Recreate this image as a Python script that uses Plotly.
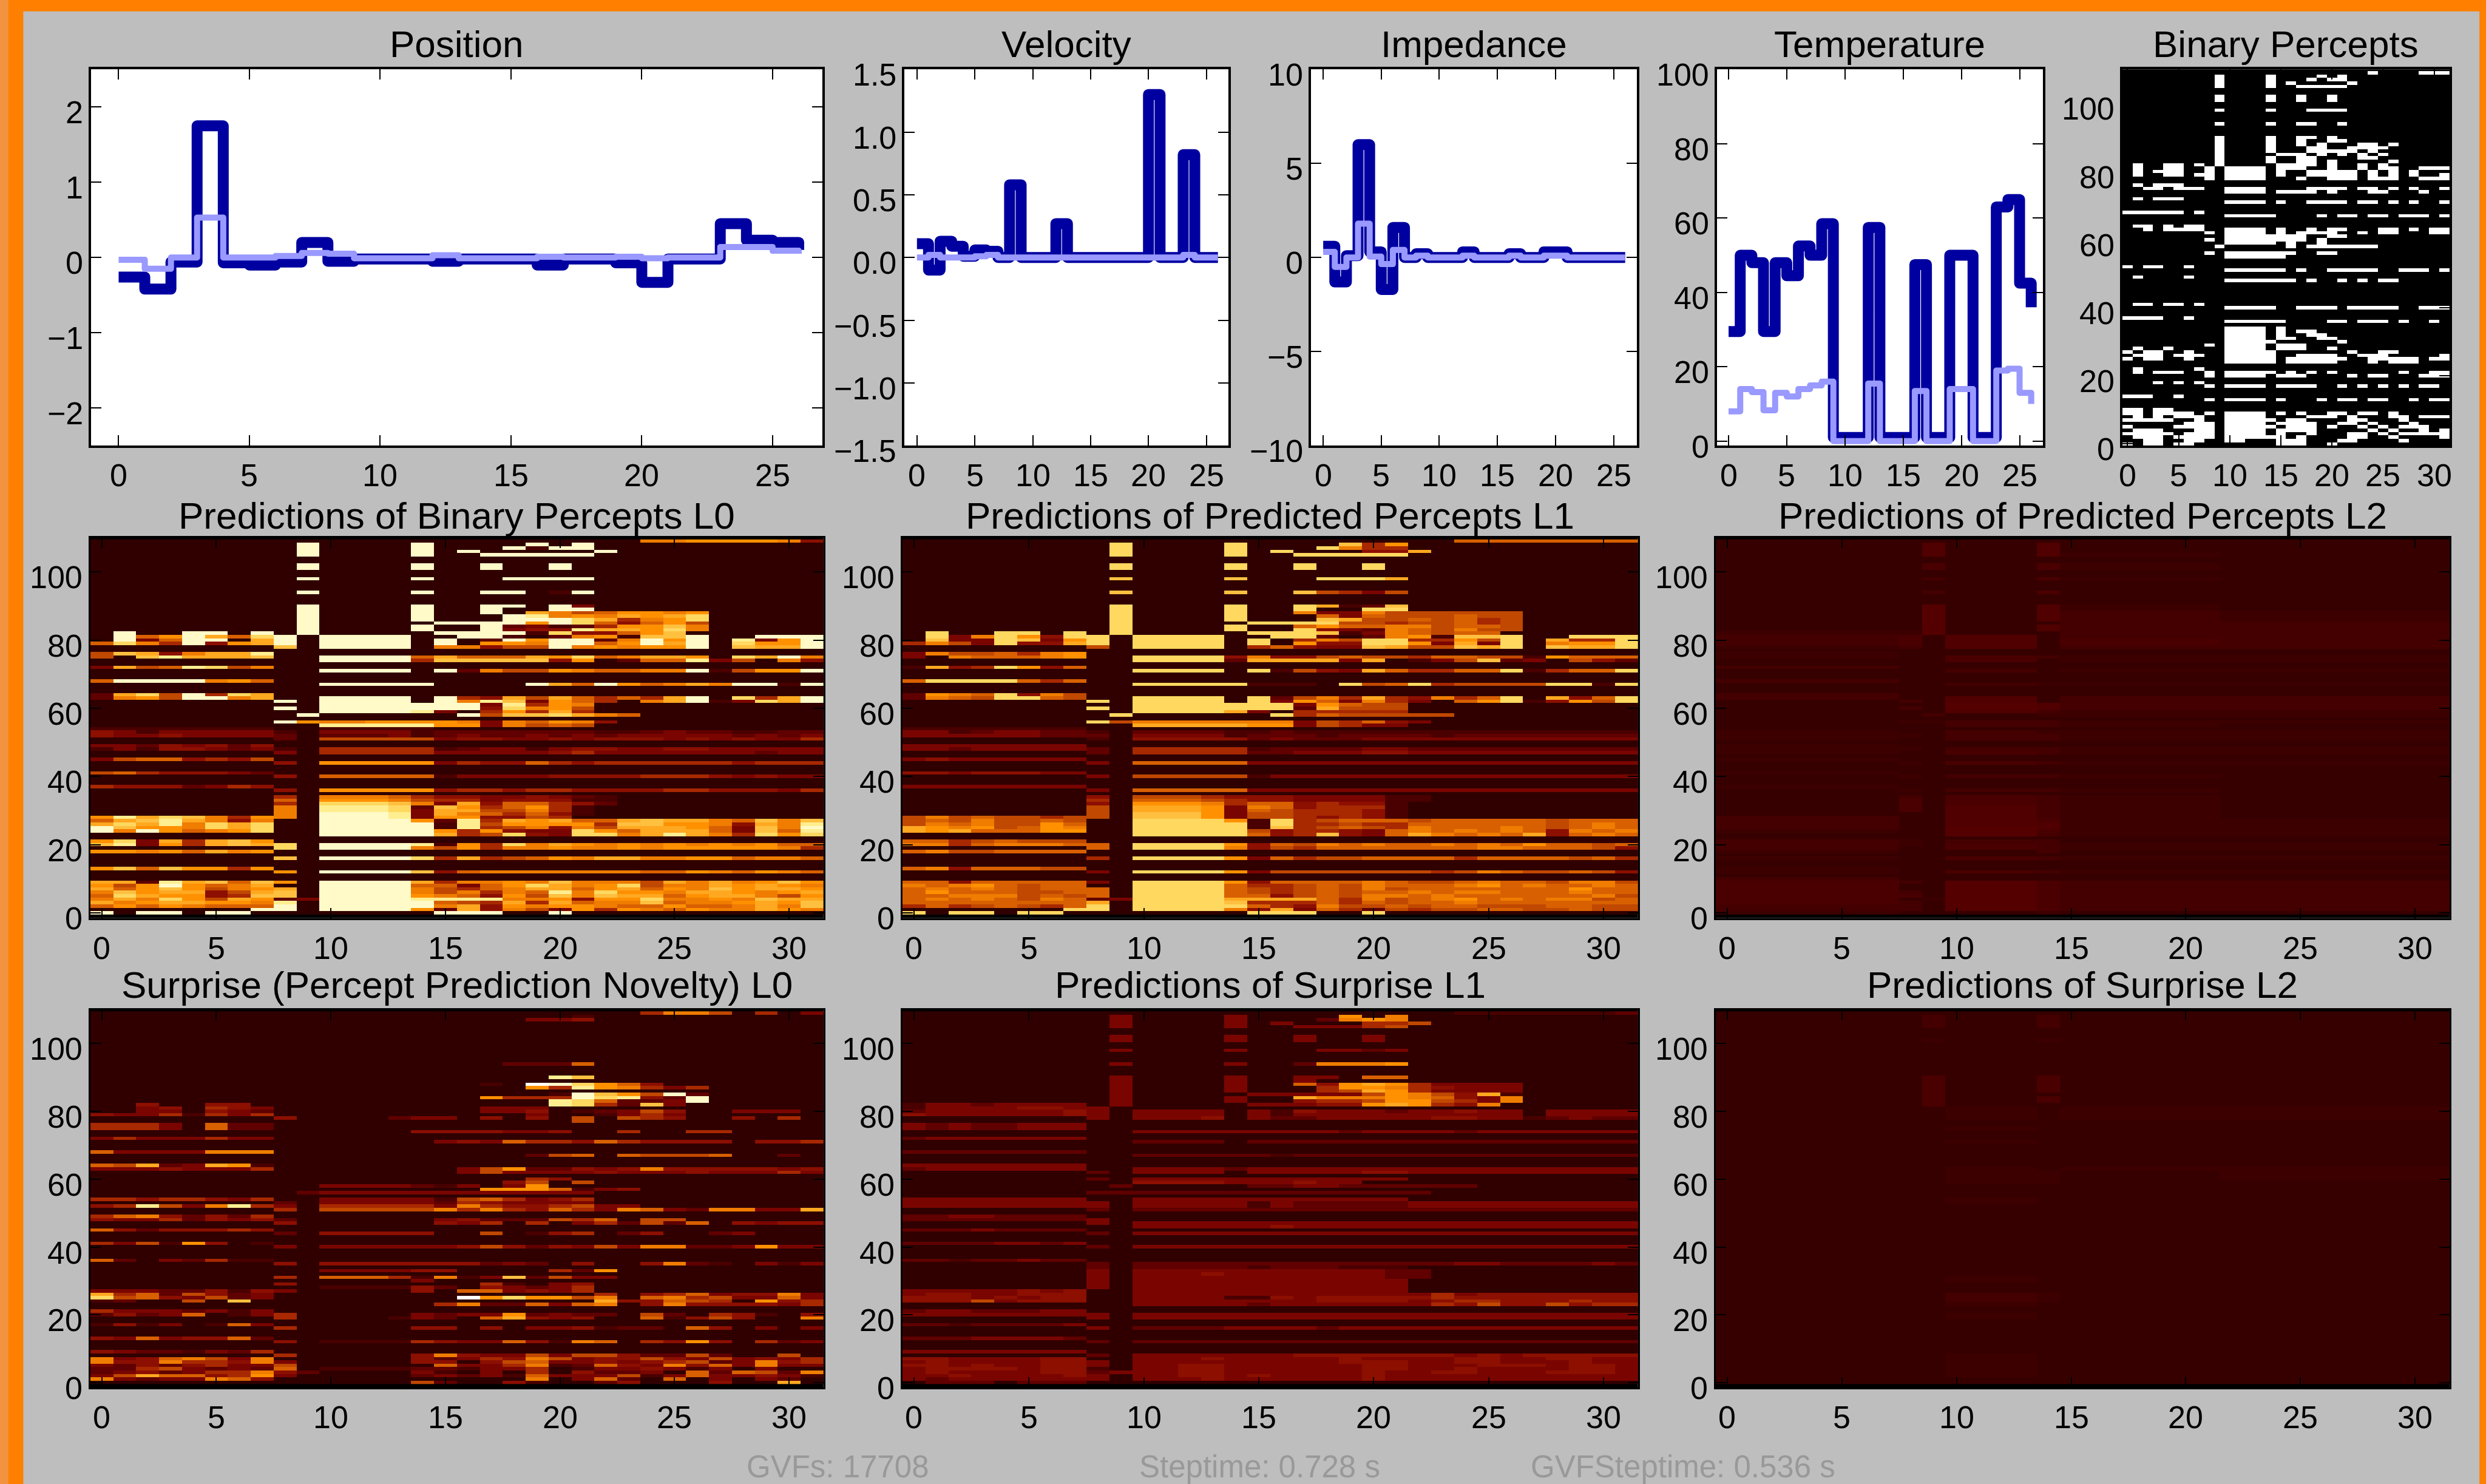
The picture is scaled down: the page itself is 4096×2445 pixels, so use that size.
import numpy as np
import plotly.graph_objects as go

W, H = 4157.0, 2481.0
FONT = "Liberation Sans"
FS_TITLE, FS_TICK, FS_FOOT = 62, 52, 51

STEPS = list(range(27))
POS_DARK = [-.26,-.42,-.06,1.75,-.07,-.1,-.06,.2,-.05,-.02,-.02,-.02,-.05,-.02,-.02,-.02,-.1,-.02,-.02,-.07,-.33,-.02,-.02,.45,.23,.2,.1]
POS_LIGHT = [-.03,-.15,0,.53,0,0,.02,.06,.05,-.01,-.01,-.01,.03,-.01,-.01,-.01,.01,0,0,.01,-.01,0,0,.14,.14,.09,.05]
VEL_DARK = [.11,-.1,.13,.09,.01,.06,.05,0,.58,0,0,0,.27,0,0,0,0,0,0,0,1.3,0,0,.82,0,0,0]
VEL_LIGHT = [0,.02,0,0,0,.01,.02,0,0,0,0,0,0,0,0,0,0,0,0,0,0,0,0,.02,0,0,0]
IMP_DARK = [.6,-1.3,.1,6,.3,-1.7,1.6,0,.2,0,0,0,.3,0,0,0,.2,0,0,.3,.3,0,0,0,0,0,0]
IMP_LIGHT = [.3,-.5,0,1.8,.05,-.35,.4,0,.1,0,0,0,.1,0,0,0,.1,0,0,.1,.1,0,0,0,0,0,0]
TEMP_DARK = [29.5,50,48,29.5,48,44.5,52.5,50,58.5,1,1,1,57.5,1,1,1,47.5,1,1,50,50,1,1,63,65,42.5,36]
TEMP_LIGHT = [8,14,13.2,8.3,13,12,14,15,16,0,0,0,15.5,0,0,0,13.5,0,0,14,14,0,0,19,19.5,13,10]

BINARY = {
109:"24,29-31",108:"9,14,19,21",107:"9,14,18,20,21",106:"9,14,16,22",105:"9,14,17-21",
102:"9,14,17,20",101:"9,14,17,20",98:"9,14,18-21",94:"9,14,17,18,21",
90:"9,14,17,18,20",89:"9,14,17,20,21",88:"9,14,17,19,23,24,26",87:"9,14,18,19,22-25",
86:"9,14,18-22,24",85:"9,15-17,19,21,23,25",84:"9,14,17,18,23,24",83:"9,14,17,18,20,26",
82:"1,4,5,7,9,15-18,20,23,25",81:"1,4,5,8,10-13,15-17,20,23,25,26,29-31",
80:"1,3-5,8,10-13,15,18-22,24,26,28",79:"1,4,5,7,8,10-13,15,18-22,24,26,28,31",
78:"8,10-13,17,20-22,24-26,29-31",76:"1,3-5",75:"2,3,5-7,10-13,18-21,23,24,26,28,31",
74:"10-13,15-18,20,24,25,29",72:"1,3-5",71:"10-13,15,18-21,23,24,26,28,31",
68:"0-5,7",67:"10-14,19,21,22,24,25,27-29,31",64:"1,2,4,6,7",
63:"2,4-7,10-13,15,18,20,21,25,26,28,30,31",62:"8,10-13,15,17-20,23,25,26,30,31",
61:"10-17,20,21",60:"8,10-17,19",59:"10-14,16,19",58:"9,16,18-24",56:"8,10-16,19,20",55:"10-15",
52:"0,2,3,6",51:"10-15,17,20-24,27-29,31",49:"1,6",48:"10-16,18,21,23,25,26",
41:"1,2,4,5,7",40:"10-14,17-20,22-26,29-31",37:"0-3,6",36:"10-15,20,21,23-25,27,30",
34:"10-13,15",33:"10-13,15,17,18",32:"10-13,15,18,19",31:"10-13,15,16,19,20",30:"10-14,21",
29:"8,10-13,15-17",28:"1,4,10-13,15-17,20",27:"0,2,3,6,10-14,22,25,26",
26:"1-3,5-7,10-14,17-20,23-25,31",25:"0,2,3,6,10-14,16-21,24-28,30,31",24:"10-14,16-20,24,26-28",
22:"1,7",21:"1,3-5,8,10-14,16,18,20,27,30,31",20:"8,10-13,15-17,22,24,25,29-31",
18:"3,5,7",17:"8,10-13,15-18,21,23,25,27,29,30",14:"0-2,5",13:"8,10-13,15,19,21,22,24,25,28,30,31",
10:"0,1,3,4",9:"0,1,3-6,8,10-13,15,17,20,21,23,24,26",8:"1,3,5-7,10-13,18-20,22,26,27,29-31",
7:"0-4,7,10-13,14,16,17,22,23,27",6:"6-8,10-13,15-18,21,22,24,28",
5:"0,5-8,10-14,16-18,20,23,25,27-29",4:"1-3,7,8,10-13,15-18,24,26,29,31",
3:"0-4,6-8,10-13,15,18,22,23,25,27-31",2:"1-3,5-8,10-15,17,22,23,26,31",1:"2,3,6,7,10,11,15-17,21,22,27",0:"0,2,3,5,6,15-17,20",
}

L0 = {
109:"00000000 0 0 0000 0 00 0 0000 00889 9 9984",
108:"00000000 0 e 0000 e 00 0 0e0e",107:"00000000 0 e 0000 e 00 0 e1ee",
106:"00000000 0 e 0000 e 0e 0 0000 e",105:"00000000 0 e 0000 e 00 e eeee",
102:"00000000 0 e 0000 e 00 e 00e0",101:"00000000 0 e 0000 e 00 e 00e0",
98:"00000000 0 e 0000 e 00 0 eeee",94:"00000000 0 e 0000 e 00 e e01e",
90:"00000000 0 e 0000 e 00 e e0e3",89:"00000000 0 e 0000 e 00 e 00ee",
88:"00000000 0 e 0000 e 00 e 0a86 79989",87:"00000000 0 e 0000 e 00 0 ed89 8a9ac",
86:"00000000 0 e 0000 e 00 0 eeec a589c",85:"00000000 0 e 0000 0 ee e e9ec 74796",
84:"00000000 0 e 0000 e 00 e 2312 599b8",83:"00000000 0 e 0000 e 00 e 344d aa9c8",
82:"0e00ee0e 0 e 0000 0 ee e e1c4 479b0",
81:"0e79ea7c e 0 eeee 0 0e e 1028 91bbe 0 0eee",
80:"0e37ee0a e 0 eeee 0 e0 2 e9ee 28e9e 0 d39e",
79:"7c85e49a e 0 eeee 0 e0 9 98ee 79eae 0 c99e",
78:"00000000 b 0 eeee 0 88 4 66e8 9899e 0 baae",
76:"6ba48aad",75:"60bdaaab 0 0 eeee 7 a7 7 7a9c 78aa9 0 cae8",
74:"00000000 0 0 eeee 5 bb b bb49 02 77d3 6 0843",
72:"3a67dc68",71:"00000000 0 0 eeee 0 e2 8 6698 778 8e 1 699e",
68:"7eeee897",67:"00000000 0 0 eeee e 00 0 0ea7 e9 78a 8 ee1e",
64:"2ac6e5ca",63:"2896ee8a 0 0 eeee 0 e5 4 a6a7 57 5ae 0 c5ae",
62:"00000000 e 0 eeee 0 e8 d b397 50 8ae 1 3cae",
61:"00000000 0 0 eeee e ee 3 d598",60:"00000000 e 0 eeee e ee 4 c896",
59:"00000000 0 0 eeee d 30 5 95a5",58:"00000000 0 e 0000 0 0e 6 bbca 87",
56:"00000000 e 9 8899 9 98 3 8798 4",55:"00000000 0 0 dddd d 99 3 8676",
54:"11111111 0 0 1111 1 00 0 0000",
53:"43133333 1 0 3333 1 22 2 2222 11232 2 1122",52:"43343333 2 0 2223 1 23 2 2323 23333 3 2323",
51:"00000000 2 0 6666 6 34 4 3343 44434 3 4335",49:"33243424",48:"13144323 1 0 5555 5 12 3 3134 43344 3 3333",
47:"00000000 3 0 5555 5 33 3 3345 33333 3 3233",45:"36774546",44:"00000000 4 0 9999 9 35 4 4754 55555 5 4555",
41:"67544432",40:"00000000 4 0 7777 7 13 3 3344 44555 4 3433",37:"54442354",36:"00000000 4 0 9999 9 45 5 4554 44455 4 4435",
34:"00000000 5 0 8887 5 44 3 3432 1",33:"00000000 7 0 9998 6 55 3 4441 1",32:"00000000 5 0 cccb 8 3a 4 7754 2",
31:"00000000 8 0 dddc 2 b9 5 7951",30:"00000000 8 0 dddc 3 aa 6 6851",29:"00000000 8 0 eeed 3 a8 7 5741",
28:"9dacb859 8 0 eeed 3 99 4 4650",27:"7abda848 0 0 eeee 9 2d 5 a9a7 7abaa 8 7b8b",
26:"acad8cac 0 0 eeee e 1d 6 9999 5bb99 8 4a8d",25:"eb998cac 0 0 eeee e 1d 5 6848 6aaa9 7 3b8e",
24:"e8e9789c 0 0 eeee e 95 9 433c 97aaa 7 3b7d",23:"00000000 0 0 eeee e a5 6 c43c c8ada 8 5c9c",
21:"9c3a5ab9",20:"bd395aba c 0 eeee d 19 5 c8a9 89898 9 8977",19:"00000000 c 0 eeee 8 69 5 8898 89899 9 9985",
18:"99897a89",16:"00000000 b 0 eeee c 5a 5 6798 aa889 9 7887",13:"9b7b9959",12:"00000000 9 0 eeee b 47 8 8888 88779 8 7987",
9:"aa2dab7b 9 0 eeee a 58 8 98b8 886a8 a 89b9",8:"969e978a 0 0 eeee 7 73 7 9ca8 9c688 a 9a98",
7:"a79b9689 a 0 eeee 8 65 7 8aa7 9a798 b 9aa9",6:"8b9aa46a b 0 eeee 8 68 5 87d8 c998a a 989a",
5:"7ca9945b b 0 eeee 9 87 4 96b8 baa79 a a869",4:"8a8c96a9 2 3 eeee d dd d 8894 99c88 9 8baa",
3:"a89aa998 d 0 eeee e 76 5 a5a7 88b78 8 9a9b",2:"79798777 e 0 eeee e 8a 4 9899 87797 7 8a8b",
1:"0000000e e 0 eeee 9 2a 4 8639 59879 8 8a98",0:"e0ee0ee0 0 0 0000 0 ee e 00e0",
}

L1 = {
109:"00000000 0 0 0000 0 00 0 0000 00777 7 7777",
108:"00000000 0 c 0000 c 00 0 0b59",107:"00000000 0 c 0000 c 00 0 c855",
106:"00000000 0 c 0000 c 0c 0 0044 a",105:"00000000 0 c 0000 c 00 c cccc",
102:"00000000 0 c 0000 c 00 c 00c0",101:"00000000 0 c 0000 c 00 c 00c0",
98:"00000000 0 b 0000 b 00 0 ccca",94:"00000000 0 b 0000 b 00 b 6536",
90:"00000000 0 c 0000 c 00 c a12b",89:"00000000 0 c 0000 c 00 c 00cc",
88:"00000000 0 c 0000 c 00 8 3386 66666",87:"00000000 0 c 0000 c 00 0 7376 66766",
86:"00000000 0 c 0000 c 00 0 ba66 76756",85:"00000000 0 c 0000 0 cc c c665 66756",
84:"00000000 0 c 0000 c 00 7 9778 86776",83:"00000000 0 c 0000 c 00 c 4328 76866",
82:"0c00cc0c 0 c 0000 0 cc c b138 76770",
81:"0c38c94c c 0 cccc 0 0c c 2028 91bbc 0 0ccc",
80:"0b33cb39 c 0 cccc 0 c0 5 86cc 5596c 0 a55c",
79:"5863c44a c 0 cccc 0 c0 9 44cc 93a3c 0 899c",
78:"00000000 6 0 cccc 0 57 4 33ba 66bac 0 baac",
76:"38667589",75:"30877789 0 0 cccc 4 84 4 6766 57766 1 9777",
74:"00000000 0 0 cccc 2 aa a a3a0 136b2 3 0642",
72:"1a45c947",71:"00000000 0 0 cccc 0 c1 6 43a7 5577c 1 577c",
68:"7cccc757",67:"00000000 0 0 cccc c 11 1 0c67 c5666 6 cc1c",
64:"2987c486",63:"2876cc76 0 0 cccc 0 c2 6 85a5 4857c 0 a47c",
62:"00000000 c 0 cccc 0 c3 9 7385 3079c 1 496c",
61:"00000000 0 0 cccc c cc 3 9766",60:"00000000 c 0 cccc c cc 2 a666",
59:"00000000 0 0 cccc a 30 5 5555",58:"00000000 0 c 0000 0 0c 5 7666 66",
56:"00000000 c 6 8888 8 88 3 6574 3",55:"00000000 0 0 aaaa a 99 3 6533",
54:"11111111 0 0 0000",53:"33123322 1 0 2222 1 12 1 1111 11111 1 1111",52:"33333322 2 0 3333 1 22 2 1222 21222 2 2222",
51:"00000000 1 0 4444 4 23 2 2233 33333 3 3333",49:"33333333",48:"33233333 2 0 5555 5 12 2 2233 22222 2 2222",
47:"00000000 2 0 5555 5 22 3 3344 33333 3 3333",45:"34333333",44:"00000000 3 0 7777 7 33 3 3333 33333 3 3333",
41:"44344433",40:"00000000 3 0 6666 6 13 3 3333 33333 3 3333",37:"33333333",36:"00000000 3 0 7777 7 33 3 3333 33333 3 3333",
34:"00000000 4 0 6665 4 44 3 3331 1",33:"00000000 5 0 7776 5 44 3 3331 1",32:"00000000 4 0 9998 5 77 4 5441",
31:"00000000 6 0 aaa9 3 87 4 5551",30:"00000000 6 0 aaa9 3 76 5 5541",29:"00000000 6 0 bbb9 3 66 5 5541",
28:"68676656 6 0 bbb9 3 66 5 4541",27:"67686676 0 0 cccc 9 1c 5 6777 67777 7 6777",
26:"68786697 0 0 cccc c 1c 5 5655 77777 7 6787",25:"a9896798 0 0 cccc c 1b 5 6765 87778 7 6787",
24:"a9a77799 0 0 cccc c 64 5 5437 87878 7 4878",23:"00000000 0 0 cccc c 74 5 b437 a8787 a 4787",
21:"77567666",20:"88578887 7 0 cccc 9 47 6 8787 78787 9 7767",19:"00000000 7 0 cccc 8 46 5 7777 77788 7 7764",
18:"78667777",16:"00000000 5 0 cccc 9 37 5 6677 77577 7 7675",13:"78477766",12:"00000000 3 0 cccc 9 36 6 6666 65687 6 6764",
9:"77477777 3 0 cccc 9 47 7 7787 66787 7 6886",8:"87897677 0 0 cccc 7 55 6 7687 77897 8 7787",
7:"78787677 7 0 cccc 7 65 6 7686 77777 7 7977",6:"79777667 7 0 cccc 7 65 6 7677 87887 7 7877",
5:"77888676 7 0 cccc 7 74 6 7688 78777 7 7786",4:"78787687 2 3 cccc a aa a 7586 78978 7 8867",
3:"77777777 a 0 cccc b 55 5 7576 77877 7 7777",2:"57567657 c 0 cccc c 75 4 8667 67766 6 7766",
1:"0000000c c 0 cccc 8 4a 3 7526 56677 6 6766",0:"c0cc0cc0 0 0 0000 0 cc c 00c0",
}

SURPRISE_L0 = {
109:"00000000 0 0 0000 0 00 0 0000 00588 6 0503",108:"00000000 0 0 0000 0 00 0 0001",107:"00000000 0 0 0000 0 00 0 0334",
94:"00000000 0 0 0000 0 00 0 2227",90:"00000000 0 0 0000 0 00 0 00db",
88:"00000000 0 0 0000 0 00 1 0fec 97400",87:"00000000 0 0 0000 0 00 0 095d 98535",
85:"00000000 0 0 0000 0 00 0 001e b96e2",84:"00000000 0 0 0000 0 00 9 555e cd42e",
83:"00000000 0 0 0000 0 00 0 00dc 7223e",82:"00400440 0 0 0000 0 00 0 00dc 52b30",
81:"00340543 0 0 0000 0 00 3 3300",80:"00330432 0 0 0000 0 00 3 3401 23640 0 3330",
79:"43351535 0 0 0000 0 00 0 0300 13530",78:"00000000 4 0 0002 3 30 4 0406 06540 0 4050",
77:"00000000 0 0 0000 0 00 0 0006",76:"55530722",75:"55530722",
74:"00000000 0 0 0000 4 44 4 3340 05005 5",72:"35333533",
71:"00000000 0 0 0000 0 34 3 7554 75444 4 0445",68:"73333888",67:"00000000 0 0 0000 0 00 0 0267 07666 7 0020",
64:"76a23a91",63:"33343335 0 0 0000 0 03 6 9224 34844 4 4434",62:"00000000 0 0 0000 0 03 6 3333 43334 3 3353",
60:"00000000 0 0 0000 0 00 0 0540",59:"00000000 0 0 0000 0 00 0 4606",58:"00000000 0 0 3333 2 13 0 3900",
57:"00000000 0 0 0000 0 00 9 9971 34",56:"00000000 0 2 3333 3 33 3 3333",54:"55455435 0 0 3333 3 16 7 5345",
53:"00000000 2 0 3333 3 25 4 3333",52:"45d638d5 3 0 5555 5 38 5 4456 33",
51:"00000000 5 0 6666 6 85 8 5475 38732 8 833a",49:"57842425",48:"43352434 2 0 0000 0 34 2 2265 70660",
47:"00000000 4 0 0000 0 43 5 0503 52627 0 4344",45:"74244454",44:"00000000 2 0 4444 4 00 6 0145 02400 2 3000",
41:"53619401",40:"00000000 3 0 3333 3 34 6 4243 63882 2 3933",36:"72032511",
35:"00000000 4 0 4444 4 44 2 3204 00482 1 0313",33:"00000000 0 0 3333 4 40 0 0052 9",
31:"00000000 5 0 7775 1 81 3 b263 3",30:"00000000 0 0 0000 3 00 0",29:"00000000 4 0 0000 0 00 5 1034",
28:"00000000 0 0 1111 4 20 4 3235",27:"33322414 3 0 0000 4 07 7 3435",
26:"a5726423 0 0 0000 0 00 0 0000 50457 3 4483",25:"c6743623 0 0 0000 0 0f 9 c996 80785 6 3373",
24:"120060b0 0 0 0000 0 00 0 0000 a4476 5 0945",23:"00000000 0 0 0000 0 58 2 2737 80484 4 4435",
21:"53332313",20:"24237013 5 0 0000 3 23 3 9232 20620 5 4104",19:"00000000 5 0 0001 3 20 7 a434 00714 6 4008",
17:"14130173",16:"00000000 5 0 0000 4 40 4 0334 12207 4 0303",13:"43734472",12:"00000000 4 0 1111 5 43 3 7418 70549 4 0523",
9:"43221325",8:"00000000 5 0 0000 4 84 3 3636 64226 2 0060",7:"83478638 0 0 0000 4 23 5 4863 44643 6 3435",
6:"84485548 3 0 0000 4 40 4 6733 43456 2 3845",5:"32424533 6 0 0000 0 73 3 5812 74384 7 3833",
4:"22563232 7 0 1111 2 21 3 3501 33431 3 0300",3:"23423558 4 2 0000 3 10 3 0504 22307 2 7628",
2:"36a77459 3 0 0000 2 32 3 1733 36137 3 3431",1:"83233874 0 0 0000 0 00 0 0803 72070 3 0320",0:"00000000 0 0 0000 6 20 0 4100 24000 4 00a0",
}

SURPRISE_L1 = {
109:"00000000 0 0 0000 0 00 0 0000 00111 1 1112",108:"00000000 0 3 0000 3 00 0 0908",107:"00000000 0 3 0000 3 00 0 2898",
106:"00000000 0 3 0000 3 03 0 0055 6",105:"00000000 0 3 0000 3 00 3 3356",
102:"00000000 0 3 0000 3 00 3 0030",101:"00000000 0 3 0000 3 00 3 0030",98:"00000000 0 3 0000 3 00 0 3323",
94:"00000000 0 3 0000 3 00 2 8889",90:"00000000 0 3 0000 3 00 3 3077",89:"00000000 0 3 0000 3 00 3",
88:"00000000 0 3 0000 3 00 7 49a9 53333",87:"00000000 0 3 0000 3 00 0 5998 54333",86:"00000000 0 3 0000 3 00 0 56a9 53333",
85:"00000000 0 3 0000 0 33 3 3369 864a1",84:"00000000 0 3 0000 3 00 a 8889 87438",83:"00000000 0 3 0000 3 00 4 5569 96538",
82:"13323333 0 3 0000 0 33 3 449a 95480",81:"13333443 3",
80:"23333334 3 0 3333 0 31 4 3332 33433 0 3333",79:"43333334 3 0 3333 0 31 3 3333 33333 0 3333",
78:"00000000 3 0 3334 0 32 2 3333 34433 1 2322",76:"32322333",75:"32322333",
74:"00000000 0 0 3333 3 33 3 3233 33233 3 3333",72:"23333333",71:"00000000 0 0 2222 0 22 2 2222 22222 2 2222",
68:"22222222",67:"00000000 0 0 2222 2 21 2 2222 22222 2 2222",64:"33333333",
63:"23333333 0 0 3333 2 33 3 3333 33333 3 3333",62:"00000000 2 0 3333 0 33 3 3344 33333 3 3333",
60:"00000000 2 0 3333 3 33 3 3333",59:"00000000 0 0 4444 3 33 4 3300",58:"00000000 0 2 0000 0 22 3 3222 222",
56:"00000000 2 2 2222 2 22 2 2222 2",54:"33333333 0 0 3333 3 33 3 3333",53:"33333333 3 0 3333 3 13 2 2222 33333 3 3333",
52:"33333333 3 0 3333 3 13 2 2222 33333 3 3333",51:"00000000 2 0 2222 2 22 2 2222 22222 2 2222",
49:"22332222",48:"22222222 3 0 0000",47:"00000000 3 0 3333 3 33 3 3333 33333 3 3333",46:"00000000 0 0 3333 3 34 3 3333 33333 3 3333",
45:"22232222",44:"00000000 2 0 3333 3 33 3 3333 33333 3 3333",41:"22223323",40:"00000000 2 0 3333 3 33 3 3333 33333 3 3333",
36:"22122322",35:"00000000 2 0 2222 2 22 2 2222 22332 2 2232",34:"00000000 2 0 2222 2 12 2 2111",
33:"00000000 3 0 3333 3 33 3 3332 2",32:"00000000 3 0 3334 3 33 3 3332 2",31:"00000000 3 0 3333 3 33 3 3332 2",
30:"00000000 3 0 3333 3 33 3 3333",29:"00000000 3 0 3333 3 33 3 3333",28:"00000000 3 0 3333 3 33 3 3333",
27:"33333434 0 0 3333 3 33 3 3333",26:"34433444 0 0 3333 3 33 3 3333 35344 4 4444",25:"44434344 0 0 3333 1 14 3 4444 45444 4 4444",
24:"44463444 0 0 3333 3 33 3 4444 34554 4 4544",23:"00000000 0 0 3333 3 23 3 3333 35464 4 6455",
21:"23322233",20:"33333333 3 0 3333 3 33 3 3333 33333 3 3333",19:"00000000 3 0 3333 3 33 3 3333 33333 3 3333",
17:"22122223",16:"00000000 3 0 2222 3 33 3 2333 33333 3 3333",13:"22233332",12:"00000000 2 0 2222 2 22 2 2222 22222 2 2222",
9:"33333333",8:"00000000 2 0 3333 3 33 4 4444 44343 4 4444",7:"44333344 0 0 3334 3 33 3 3433 33443 3 4433",
6:"34333344 3 0 3333 3 33 3 3444 33443 3 3433",5:"44343344 3 0 3344 3 33 3 3344 33344 4 3443",
4:"34444344 1 0 3344 3 33 3 3344 33433 3 3443",3:"34333344 2 3 3344 3 33 3 3343 34433 3 4443",
2:"33433334 3 0 3344 3 43 3 3343 33333 3 3333",1:"32333333 3 0 3334 3 33 3 3343 33333 3 3333",0:"02220222 0 0 0000 0",
}

# L2 rows: [0-7] [8] [9] [10-13] [14] [15-21] [22-31]
L2 = {
108:"1151511",107:"1151511",106:"1151511",105:"1151521",102:"1141421",101:"1141421",98:"1131421",94:"1131411",
90:"1161521",89:"1161521",88:"1161532",87:"1161532",86:"1161532",85:"1161133",84:"1161533",83:"1161533",82:"2261133",
81:"3415133",80:"3415143",79:"3415143",78:"2315133",76:"2111111",75:"2114322",74:"1114122",72:"3111111",71:"1113122",
68:"3111111",67:"1113222",64:"3111111",63:"3115133",62:"1315133",61:"1116533",60:"1316533",59:"1115322",58:"1131222",
56:"1223322",55:"1113321",53:"2113222",52:"2213322",51:"2113322",49:"2111111",48:"2213322",47:"2114322",45:"2111111",
44:"1214322",41:"2111111",40:"1213321",37:"2111111",36:"1213321",34:"1314321",33:"1414321",32:"1414321",31:"1415321",
30:"1415321",29:"1115321",28:"3115321",27:"3115422",26:"3115522",25:"3116522",24:"2116422",23:"1116322",21:"3213311",
20:"3214322",19:"3114322",18:"2111311",16:"2114322",13:"2111111",12:"2114322",10:"3111111",9:"4316433",8:"4116433",
7:"4116433",6:"4316433",5:"4416433",4:"4126433",3:"4316433",2:"3316433",1:"3316433",0:"2111211",
}
SURPRISE_L2 = {
108:"1131311",107:"1131311",106:"1131311",105:"1131311",101:"1121211",90:"1141411",89:"1141411",88:"1141411",87:"1141411",
86:"1141411",85:"1141111",84:"1141411",83:"1141411",82:"1141111",81:"1112122",80:"1112122",79:"1112122",78:"1112122",
75:"1112111",71:"1112111",63:"1112122",62:"1112212",61:"1112212",60:"1112212",59:"1112211",54:"1112111",53:"1112111",
31:"1112111",30:"1112111",26:"1113211",25:"1113211",24:"1113211",23:"1112111",20:"1112111",19:"1112111",8:"1112111",
7:"1112111",6:"1112111",5:"1112111",4:"1112111",3:"1112111",2:"1112111",
}
L2_GROUPS = [8, 1, 1, 4, 1, 7, 10]

HEAT_COLORS = ["#300000","#4a0000","#600000","#7a0500","#8c0f00","#a82800","#c04800","#d86000",
               "#f07c00","#ff9000","#ffa820","#ffc040","#ffd860","#ffee90","#fffac8","#ffffff"]
N_ROWS, N_COLS = 110, 32

def hex_matrix(rows):
    m = np.zeros((N_ROWS, N_COLS))
    for r, s in rows.items():
        s = (s.replace(" ", "") + "0" * N_COLS)[:N_COLS]
        m[r] = [int(c, 16) for c in s]
    return m

def group_matrix(rows):
    m = np.full((N_ROWS, N_COLS), 0.25)
    for r, s in rows.items():
        m[r] = np.repeat([int(c) * 0.25 for c in s], L2_GROUPS)
    return m

def binary_matrix(rows):
    m = np.zeros((N_ROWS, N_COLS))
    for r, s in rows.items():
        for part in s.split(","):
            a, _, b = part.partition("-")
            m[r, int(a):int(b or a) + 1] = 1
    return m

fig = go.Figure()
ann, axes = [], {}
shapes = []

def minus(v):
    return str(v).replace("-", "\u2212")

def add_axes(i, box, xr, yr, xt, yt, ylabels=None):
    x0, x1, y0, y1 = box
    s = "" if i == 1 else str(i)
    common = dict(showline=True, mirror="allticks", linecolor="black", linewidth=4, ticks="inside",
                  ticklen=17, tickwidth=2, tickcolor="black", showgrid=False, zeroline=False,
                  showticklabels=False, tickmode="array")
    axes[f"xaxis{s}"] = dict(common, domain=[x0 / W, x1 / W], range=xr, tickvals=xt, anchor=f"y{s}")
    axes[f"yaxis{s}"] = dict(common, domain=[1 - y1 / H, 1 - y0 / H], range=yr, tickvals=yt, anchor=f"x{s}")
    for v in xt:
        ann.append(dict(text=str(v), x=v, y=0, xref=f"x{s}", yref=f"y{s} domain", showarrow=False,
                        xanchor="center", yanchor="middle", yshift=-49, font=dict(size=FS_TICK, color="black", family=FONT)))
    labs = ylabels or [minus(v) for v in yt]
    for v, l in zip(yt, labs):
        ann.append(dict(text=l, x=0, y=v, xref=f"x{s} domain", yref=f"y{s}", showarrow=False, xanchor="right",
                        yanchor="middle", xshift=-11, yshift=-9, font=dict(size=FS_TICK, color="black", family=FONT)))
    return s

def title(text, box, yc):
    ann.append(dict(text=text, x=(box[0] + box[1]) / 2 / W, y=1 - yc / H, xref="paper", yref="paper", showarrow=False,
                    xanchor="center", yanchor="middle", font=dict(size=FS_TITLE, color="black", family=FONT)))

def dark_back(s):
    shapes.append(dict(type="rect", xref=f"x{s} domain", yref=f"y{s} domain", x0=0, x1=1, y0=0, y1=1,
                       fillcolor="#000000", line=dict(width=0), layer="below"))

LINE_PANELS = [
    ("Position", (152, 1375, 116, 745), POS_DARK, POS_LIGHT, [-1.06, 26.9], [-2.5, 2.5], list(range(-2, 3)), None),
    ("Velocity", (1512, 2054, 116, 745), VEL_DARK, VEL_LIGHT, [-1.1, 26.9], [-1.5, 1.5], [-1.5, -1, -.5, 0, .5, 1, 1.5],
     ["\u22121.5", "\u22121.0", "\u22120.5", "0.0", "0.5", "1.0", "1.5"]),
    ("Impedance", (2192, 2737, 116, 745), IMP_DARK, IMP_LIGHT, [-1.06, 27], [-10, 10], [-10, -5, 0, 5, 10], None),
    ("Temperature", (2871, 3416, 116, 745), TEMP_DARK, TEMP_LIGHT, [-1, 27], [-1.2, 100], list(range(0, 101, 20)), None),
]
i = 0
for name, box, dark, light, xr, yr, yt, yl in LINE_PANELS:
    i += 1
    s = add_axes(i, box, xr, yr, list(range(0, 26, 5)), yt, yl)
    for vals, col, w in ((dark, "#0000a0", 18), (light, "#9999ff", 10)):
        fig.add_trace(go.Scatter(x=STEPS, y=vals, mode="lines", line=dict(shape="hv", color=col, width=w),
                                 xaxis=f"x{s}", yaxis=f"y{s}", showlegend=False, hoverinfo="skip"))
    title(name, box, 74)

XS, YS = list(range(N_COLS)), list(range(N_ROWS))
YT = list(range(0, 101, 20))
XT = list(range(0, 31, 5))

i += 1
box = (3549, 4096, 116, 745)
s = add_axes(i, box, [-0.5, 31.5], [-0.5, 110], XT, YT)
dark_back(s)
fig.add_trace(go.Heatmap(z=binary_matrix(BINARY), x=XS, y=YS, xaxis=f"x{s}", yaxis=f"y{s}", zmin=0, zmax=1,
                         colorscale=[[0, "#000000"], [1, "#ffffff"]], showscale=False, hoverinfo="skip"))
title("Binary Percepts", box, 74)

HEAT_PANELS = [
    ("Predictions of Binary Percepts L0", (151, 1377, 899, 1535), hex_matrix(L0), 862),
    ("Predictions of Predicted Percepts L1", (1509, 2739, 899, 1535), hex_matrix(L1), 862),
    ("Predictions of Predicted Percepts L2", (2869, 4096, 899, 1535), group_matrix(L2), 862),
    ("Surprise (Percept Prediction Novelty) L0", (151, 1377, 1688, 2320), hex_matrix(SURPRISE_L0), 1646),
    ("Predictions of Surprise L1", (1509, 2739, 1688, 2320), hex_matrix(SURPRISE_L1), 1646),
    ("Predictions of Surprise L2", (2869, 4096, 1688, 2320), group_matrix(SURPRISE_L2), 1646),
]
cscale = [[k / 15, c] for k, c in enumerate(HEAT_COLORS)]
for name, box, z, yc in HEAT_PANELS:
    i += 1
    s = add_axes(i, box, [-0.5, 31.5], [-1.5, 110], XT, YT)
    dark_back(s)
    fig.add_trace(go.Heatmap(z=z, x=XS, y=YS, xaxis=f"x{s}", yaxis=f"y{s}", zmin=0, zmax=15, colorscale=cscale,
                             showscale=False, hoverinfo="skip"))
    title(name, box, yc)
    axes[f"xaxis{s}"]["linewidth"] = 3
    axes[f"yaxis{s}"]["linewidth"] = 3

FOOTER = [("GVFs: 17708", 1246), ("Steptime: 0.728 s", 1903), ("GVFSteptime: 0.536 s", 2558)]
for text, xp in FOOTER:
    ann.append(dict(text=text, x=xp / W, y=1 - 2452 / H, xref="paper", yref="paper", showarrow=False, xanchor="left",
                    yanchor="middle", font=dict(size=FS_FOOT, color="#999999", family=FONT)))

def band(x0, x1, y0, y1, col):
    return dict(type="rect", xref="paper", yref="paper", x0=x0 / W, x1=x1 / W, y0=1 - y1 / H, y1=1 - y0 / H,
                fillcolor=col, line=dict(width=0), layer="below")

shapes += [band(0, W, 0, 19, "#ff8000"), band(0, 39, 0, H, "#ff8000"), band(0, 14, 0, H, "#f4933f"),
           band(4146, W, 0, H, "#ff8000")]

fig.update_layout(width=4096, height=2445, margin=dict(l=0, r=0, t=0, b=0), paper_bgcolor="#bebebe",
                  plot_bgcolor="#ffffff", showlegend=False, annotations=ann, shapes=shapes, **axes)
fig.write_html("out.html", config={"displayModeBar": False},
               post_script="document.body.style.margin='0';document.body.style.overflow='hidden';"
                           "document.querySelectorAll('.js-line').forEach(function(e){e.style.strokeLinejoin='round';});")
